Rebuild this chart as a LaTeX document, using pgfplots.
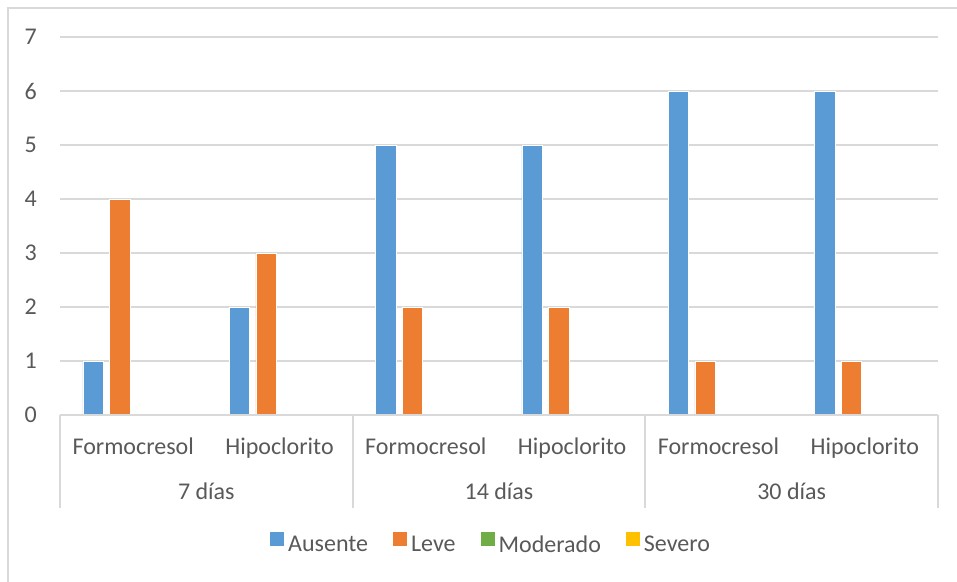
\documentclass[border=0pt]{standalone}
\usepackage{pgfplots}
\pgfplotsset{compat=1.18}
\usepackage{fontspec}
\setmainfont{Carlito}
\definecolor{cA}{HTML}{5B9BD5}
\definecolor{cL}{HTML}{ED7D31}
\definecolor{cM}{HTML}{70AD47}
\definecolor{cS}{HTML}{FFC000}
\definecolor{txt}{HTML}{595959}
\definecolor{grd}{HTML}{D9D9D9}
\begin{document}
\begin{tikzpicture}
\path[use as bounding box] (-60pt,-166pt) rectangle (897pt,415pt);
\draw[grd, line width=1.2pt] (-52pt,-180pt) rectangle (905pt,407pt);
\begin{axis}[
  scale only axis,
  width=878pt, height=378pt,
  xmin=-0.5, xmax=5.5,
  ymin=0, ymax=7,
  ytick={0,1,2,3,4,5,6,7},
  xtick={0,1,2,3,4,5},
  xticklabels={Formocresol,Hipoclorito,Formocresol,Hipoclorito,Formocresol,Hipoclorito},
  major tick length=0pt,
  axis line style={draw=none},
  ymajorgrids,
  grid style={grd, line width=1.2pt},
  /pgf/number format/assume math mode=true,
  ticklabel style={font=\fontsize{24}{28}\selectfont, text=txt},
  yticklabel style={anchor=east, inner sep=0pt, xshift=-23pt},
  xticklabel style={anchor=base, inner sep=0pt, yshift=-39pt},
  clip=false,
  legend columns=-1,
  legend style={at={(0.491,-0.341)}, anchor=center, draw=none, fill=none,
    font=\fontsize{24}{28}\selectfont, text=txt,
    /tikz/every even column/.append style={column sep=23pt}},
  legend image code/.code={\path[#1, draw=none] (0pt,-1pt) rectangle (14pt,13pt); \path[draw=none, fill=none] (0pt,0pt) rectangle (16pt,1pt);},
]
\addplot[ybar, bar width=0.14, bar shift=-0.273, fill=cA, draw=white, line width=0.8pt]
  coordinates {(0,1) (1,2) (2,5) (3,5) (4,6) (5,6)};
\addlegendentry{Ausente}
\addplot[ybar, bar width=0.14, bar shift=-0.091, fill=cL, draw=white, line width=0.8pt]
  coordinates {(0,4) (1,3) (2,2) (3,2) (4,1) (5,1)};
\addlegendentry{Leve}
\addplot[ybar, bar width=0.14, bar shift=0.091, fill=cM, draw=none]
  coordinates {(0,0) (1,0) (2,0) (3,0) (4,0) (5,0)};
\addlegendentry{Moderado}
\addplot[ybar, bar width=0.14, bar shift=0.273, fill=cS, draw=none]
  coordinates {(0,0) (1,0) (2,0) (3,0) (4,0) (5,0)};
\addlegendentry{Severo}
% category axis line and group separators
\draw[grd, line width=1.8pt] (axis cs:-0.5,0) -- (axis cs:5.5,0);
\draw[grd, line width=1.8pt] (axis cs:-0.5,0) -- ([yshift=-93pt]axis cs:-0.5,0);
\draw[grd, line width=1.8pt] (axis cs:1.5,0) -- ([yshift=-93pt]axis cs:1.5,0);
\draw[grd, line width=1.8pt] (axis cs:3.5,0) -- ([yshift=-93pt]axis cs:3.5,0);
\draw[grd, line width=1.8pt] (axis cs:5.5,0) -- ([yshift=-93pt]axis cs:5.5,0);
\node[anchor=base, inner sep=0pt, text=txt, font=\fontsize{24}{28}\selectfont] at ([yshift=-84pt]axis cs:0.5,0) {7 días};
\node[anchor=base, inner sep=0pt, text=txt, font=\fontsize{24}{28}\selectfont] at ([yshift=-84pt]axis cs:2.5,0) {14 días};
\node[anchor=base, inner sep=0pt, text=txt, font=\fontsize{24}{28}\selectfont] at ([yshift=-84pt]axis cs:4.5,0) {30 días};
\end{axis}
\end{tikzpicture}
\end{document}
